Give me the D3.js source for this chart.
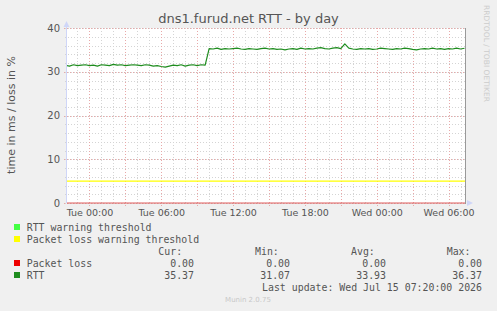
<!DOCTYPE html>
<html>
<head>
<meta charset="utf-8">
<script src="https://cdn.jsdelivr.net/npm/d3@7/dist/d3.min.js"></script>
<style>
  html, body { margin: 0; padding: 0; background: #f0f0f0; }
  svg { display: block; }
</style>
</head>
<body>
<div id="chart"></div>
<script>
// RTT samples, one every 20 minutes starting Mon 13 Jul 22:00
var rttValues = [
  31.5, 31.3, 31.6, 31.4, 31.5, 31.6, 31.4, 31.5, 31.3, 31.6,
  31.5, 31.4, 31.7, 31.5, 31.6, 31.4, 31.5, 31.6, 31.5, 31.4,
  31.6, 31.5, 31.3, 31.4, 31.2, 31.07, 31.3, 31.5, 31.4, 31.6,
  31.3, 31.5, 31.6, 31.4, 31.6, 31.5,
  35.3, 35.2, 35.4, 35.1, 35.3, 35.2, 35.3, 35.4, 35.2, 35.1,
  35.3, 35.2, 35.1, 35.3, 35.4, 35.2, 35.3, 35.1, 35.2, 35.0,
  35.2, 35.3, 35.1, 35.4, 35.2, 35.3, 35.2, 35.4, 35.5, 35.3,
  35.2, 35.4, 35.5, 35.3, 36.37, 35.4, 35.2, 35.1, 35.3, 35.2,
  35.3, 35.1, 35.2, 35.4, 35.3, 35.2, 35.1, 35.3, 35.2, 35.4,
  35.3, 35.1, 35.0, 35.2, 35.3, 35.2, 35.4, 35.2, 35.3, 35.1,
  35.3, 35.2, 35.4, 35.2, 35.37
];
var rttStart = new Date(2026, 6, 13, 22, 0);
var rttStepMin = 20;
var lossValues = [0.00, 0.00];
var lossWarning = 5;

var yTicks = [0, 10, 20, 30, 40];
var legendNames = ["RTT warning threshold", "Packet loss warning threshold", "Packet loss", "RTT"];
var legendColors = ["#44ff44", "#ffff00", "#ee0000", "#1e8c1e"];
var statHeaders = ["Cur:", "Min:", "Avg:", "Max:"];
var lossStats = ["0.00", "0.00", "0.00", "0.00"];
var rttStats = ["35.37", "31.07", "33.93", "36.37"];
var lastUpdate = "Last update: Wed Jul 15 07:20:00 2026";

var W = 497, H = 311;
var margin = {left: 67, right: 31, top: 28, bottom: 108};
var pw = W - margin.left - margin.right, ph = H - margin.top - margin.bottom;

var t0 = new Date(2026, 6, 13, 22, 7, 30);
var t1 = new Date(t0.getTime() + 400 * 300 * 1000);

var x = d3.scaleTime().domain([t0, t1]).range([margin.left, margin.left + pw]);
var y = d3.scaleLinear().domain([0, 40]).range([margin.top + ph, margin.top]);

var svg = d3.select("#chart").append("svg").attr("width", W).attr("height", H);
svg.append("rect").attr("width", W).attr("height", H).attr("fill", "#f0f0f0");
svg.append("rect").attr("x", margin.left).attr("y", margin.top)
  .attr("width", pw).attr("height", ph).attr("fill", "#ffffff");

// grid
var minorX = d3.timeHour.every(1).range(t0, t1);
var majorX = d3.timeHour.every(3).range(t0, t1);
var minorY = d3.range(0, 41, 2);
var grid = svg.append("g");
grid.selectAll(".mx").data(minorX).enter().append("line")
  .attr("x1", function(d){ return Math.round(x(d)) + 0.5; })
  .attr("x2", function(d){ return Math.round(x(d)) + 0.5; })
  .attr("y1", margin.top).attr("y2", margin.top + ph + 2)
  .attr("stroke", "#d4d4d4").attr("stroke-dasharray", "1,2");
grid.selectAll(".my").data(minorY).enter().append("line")
  .attr("y1", function(d){ return Math.round(y(d)) + 0.5; })
  .attr("y2", function(d){ return Math.round(y(d)) + 0.5; })
  .attr("x1", margin.left - 2).attr("x2", margin.left + pw)
  .attr("stroke", "#d4d4d4").attr("stroke-dasharray", "1,2");
grid.selectAll(".Mx").data(majorX).enter().append("line")
  .attr("x1", function(d){ return Math.round(x(d)) + 0.5; })
  .attr("x2", function(d){ return Math.round(x(d)) + 0.5; })
  .attr("y1", margin.top).attr("y2", margin.top + ph + 3)
  .attr("stroke", "#e8a8a8").attr("stroke-dasharray", "1,2");
grid.selectAll(".My").data(yTicks).enter().append("line")
  .attr("y1", function(d){ return Math.round(y(d)) + 0.5; })
  .attr("y2", function(d){ return Math.round(y(d)) + 0.5; })
  .attr("x1", margin.left - 3).attr("x2", margin.left + pw)
  .attr("stroke", "#e8a8a8").attr("stroke-dasharray", "1,2");

// data lines
svg.append("clipPath").attr("id", "clip").append("rect")
  .attr("x", margin.left).attr("y", margin.top - 2).attr("width", pw).attr("height", ph + 4);
var plot = svg.append("g").attr("clip-path", "url(#clip)");

plot.append("line")
  .attr("x1", margin.left).attr("x2", margin.left + pw)
  .attr("y1", y(lossWarning)).attr("y2", y(lossWarning))
  .attr("stroke", legendColors[1]).attr("stroke-width", 1.2);

var lossData = [{t: t0, v: lossValues[0]}, {t: t1, v: lossValues[1]}];
var line = d3.line().x(function(d){ return x(d.t); }).y(function(d){ return y(d.v); });
plot.append("path").datum(lossData).attr("d", line)
  .attr("fill", "none").attr("stroke", "#e06060").attr("stroke-width", 1.2);

var rttData = rttValues.map(function(v, i){
  return {t: new Date(rttStart.getTime() + i * rttStepMin * 60000), v: v};
});
plot.append("path").datum(rttData).attr("d", line)
  .attr("fill", "none").attr("stroke", "#1e8c1e").attr("stroke-width", 1.2)
  .attr("stroke-linejoin", "round");

// axis lines + arrows
var axisCol = "#cfd6f8";
svg.append("line").attr("x1", margin.left - 0.5).attr("x2", margin.left - 0.5)
  .attr("y1", margin.top + ph).attr("y2", margin.top - 5).attr("stroke", axisCol);
svg.append("path").attr("fill", axisCol)
  .attr("d", "M" + (margin.left - 3.5) + "," + (margin.top - 1) + "L" + (margin.left + 2.5) + "," + (margin.top - 1) + "L" + (margin.left - 0.5) + "," + (margin.top - 7) + "Z");
svg.append("path").attr("fill", axisCol)
  .attr("d", "M" + (margin.left + pw + 1) + "," + (margin.top + ph - 3) + "L" + (margin.left + pw + 1) + "," + (margin.top + ph + 3) + "L" + (margin.left + pw + 7) + "," + (margin.top + ph) + "Z");
svg.append("line").attr("x1", margin.left + pw - 0.5).attr("x2", margin.left + pw - 0.5)
  .attr("y1", margin.top).attr("y2", margin.top + ph + 1).attr("stroke", "#999999");

// tick labels
var textCol = "#555555";
var xAxis = d3.axisBottom(x).tickValues(d3.timeHour.every(6).range(t0, t1))
  .tickFormat(d3.timeFormat("%a %H:%M")).tickSize(0).tickPadding(6);
var gx = svg.append("g").attr("transform", "translate(0," + (margin.top + ph) + ")").call(xAxis);
gx.select(".domain").remove();
gx.selectAll("text").attr("fill", textCol).style("font-family", "DejaVu Sans").style("font-size", "9.5px");

var yAxis = d3.axisLeft(y).tickValues(yTicks).tickSize(0).tickPadding(7);
var gy = svg.append("g").attr("transform", "translate(" + margin.left + ",0)").call(yAxis);
gy.select(".domain").remove();
gy.selectAll("text").attr("fill", textCol).style("font-family", "DejaVu Sans").style("font-size", "10px");

// title and labels
svg.append("text").attr("x", 248.5).attr("y", 23).attr("text-anchor", "middle")
  .attr("fill", textCol).style("font-family", "DejaVu Sans").style("font-size", "13px")
  .text("dns1.furud.net RTT - by day");
svg.append("text").attr("transform", "translate(15,115) rotate(-90)").attr("text-anchor", "middle")
  .attr("fill", textCol).style("font-family", "DejaVu Sans").style("font-size", "11px")
  .text("time in ms / loss in %");
svg.append("text").attr("transform", "translate(484,5) rotate(90)")
  .attr("fill", "#cccccc").style("font-family", "DejaVu Sans").style("font-size", "7.5px")
  .attr("textLength", 97).attr("lengthAdjust", "spacingAndGlyphs")
  .text("RRDTOOL / TOBI OETIKER");

// legend
var mono = "DejaVu Sans Mono", lsize = "9.9px";
var rowsY = [231, 243, 267, 279];
var lg = svg.append("g");
legendNames.forEach(function(name, i){
  lg.append("rect").attr("x", 14).attr("y", rowsY[i] - 7).attr("width", 6).attr("height", 6)
    .attr("fill", legendColors[i]);
  lg.append("text").attr("x", 26.7).attr("y", rowsY[i]).attr("fill", textCol)
    .style("font-family", mono).style("font-size", lsize).text(name);
});
var headX = [158.3, 255, 351, 446.7];
var valX = [194, 290, 386, 482];
statHeaders.forEach(function(h, i){
  lg.append("text").attr("x", headX[i]).attr("y", 255).attr("fill", textCol)
    .style("font-family", mono).style("font-size", lsize).text(h);
  lg.append("text").attr("x", valX[i]).attr("y", 267).attr("text-anchor", "end").attr("fill", textCol)
    .style("font-family", mono).style("font-size", lsize).text(lossStats[i]);
  lg.append("text").attr("x", valX[i]).attr("y", 279).attr("text-anchor", "end").attr("fill", textCol)
    .style("font-family", mono).style("font-size", lsize).text(rttStats[i]);
});
lg.append("text").attr("x", 482).attr("y", 291).attr("text-anchor", "end").attr("fill", textCol)
  .style("font-family", mono).style("font-size", lsize).text(lastUpdate);
svg.append("text").attr("x", 248).attr("y", 302).attr("text-anchor", "middle")
  .attr("fill", "#c8c8c8").style("font-family", "DejaVu Sans").style("font-size", "7px")
  .text("Munin 2.0.75");
</script>
</body>
</html>
